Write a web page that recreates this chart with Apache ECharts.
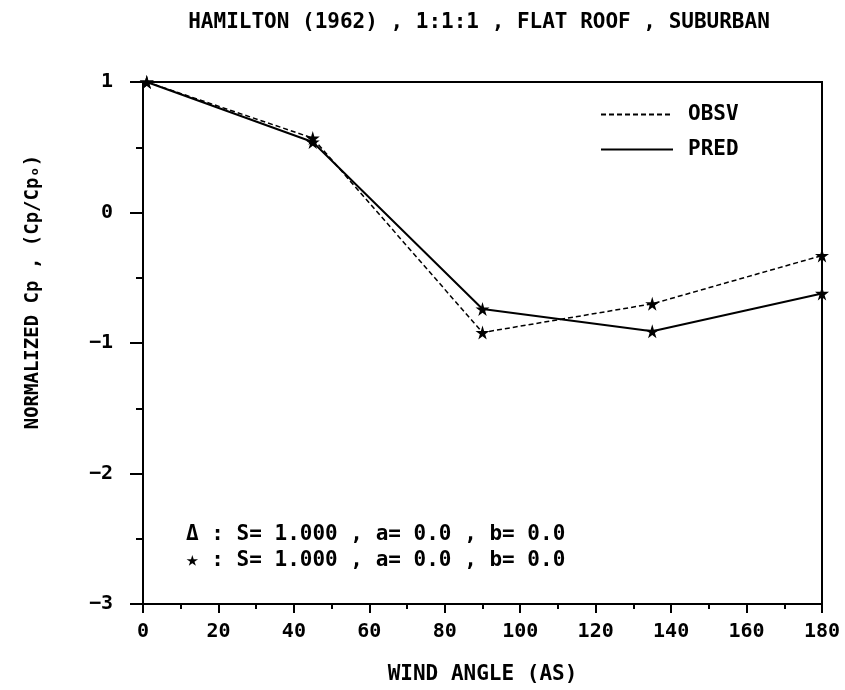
<!DOCTYPE html>
<html>
<head>
<meta charset="utf-8">
<script src="https://cdn.jsdelivr.net/npm/echarts@6/dist/echarts.min.js"></script>
<style>
html,body{margin:0;padding:0;background:#fff;}
#main{width:845px;height:690px;}
</style>
</head>
<body>
<div id="main"></div>
<script>
// wind angle (deg) and normalized Cp
var angles = [1, 45, 90, 135, 180];
var obsv = [1.0, 0.57, -0.92, -0.70, -0.33];
var pred = [1.0, 0.54, -0.74, -0.91, -0.62];
var xTicks = [0, 20, 40, 60, 80, 100, 120, 140, 160, 180];
var yTicks = [1, 0, -1, -2, -3];

var FONT = 'DejaVu Sans Mono';
var star = 'path://M50,0 L61,35 L98,35 L68,57 L79,91 L50,70 L21,91 L32,57 L2,35 L39,35 Z';

function pairs(ys) {
    var out = [];
    for (var i = 0; i < angles.length; i++) out.push([angles[i], ys[i]]);
    return out;
}

var myChart = echarts.init(document.getElementById('main'));
var options = {
    backgroundColor: '#fff',
    animation: false,
    title: {
        text: 'HAMILTON (1962) , 1:1:1 , FLAT ROOF , SUBURBAN',
        left: 474,
        textAlign: 'center',
        top: 7,
        textStyle: {fontFamily: FONT, fontWeight: 'bold', fontSize: 21, color: '#000'}
    },
    legend: {
        orient: 'vertical',
        left: 595,
        top: 99,
        itemWidth: 72,
        itemHeight: 14,
        itemGap: 14,
        itemStyle: {opacity: 0},
        textStyle: {fontFamily: FONT, fontWeight: 'bold', fontSize: 21, color: '#000', padding: [0, 0, 0, 10]},
        data: ['OBSV', 'PRED']
    },
    grid: {
        left: 143, right: 23, top: 82, bottom: 85,
        show: true, borderColor: '#000', borderWidth: 2, backgroundColor: 'transparent'
    },
    xAxis: {
        type: 'value',
        min: 0, max: 180, interval: 20,
        name: 'WIND ANGLE (AS)',
        nameLocation: 'middle',
        nameGap: 60,
        nameTextStyle: {fontFamily: FONT, fontWeight: 'bold', fontSize: 21, color: '#000'},
        axisLine: {onZero: false, lineStyle: {color: '#000', width: 2}},
        axisTick: {length: 9, lineStyle: {color: '#000', width: 2}},
        minorTick: {show: true, splitNumber: 2, length: 5, lineStyle: {color: '#000', width: 2}},
        axisLabel: {fontFamily: FONT, fontWeight: 'bold', fontSize: 20, color: '#000', margin: 18},
        splitLine: {show: false}
    },
    yAxis: {
        type: 'value',
        min: -3, max: 1, interval: 1,
        axisLine: {lineStyle: {color: '#000', width: 2}},
        axisTick: {length: 13, lineStyle: {color: '#000', width: 2}},
        minorTick: {show: true, splitNumber: 2, length: 7, lineStyle: {color: '#000', width: 2}},
        axisLabel: {
            fontFamily: FONT, fontWeight: 'bold', fontSize: 20, color: '#000', margin: 30,
            formatter: function (v) { return v < 0 ? '\u2212' + (-v) : String(v); }
        },
        splitLine: {show: false}
    },
    graphic: [{
        type: 'text', x: 33, y: 292, rotation: Math.PI / 2,
        style: {text: 'NORMALIZED Cp , (Cp/Cpₒ)', fontFamily: FONT, fontWeight: 'bold', fontSize: 19,
            fill: '#000', align: 'center', verticalAlign: 'middle'}
    }, {
        type: 'text', left: 186, top: 524,
        style: {text: 'Δ : S= 1.000 , a= 0.0 , b= 0.0', fontFamily: FONT, fontWeight: 'bold', fontSize: 21, fill: '#000'}
    }, {
        type: 'text', left: 186, top: 550,
        style: {text: '★ : S= 1.000 , a= 0.0 , b= 0.0', fontFamily: FONT, fontWeight: 'bold', fontSize: 21, fill: '#000'}
    }],
    series: [{
        name: 'OBSV',
        type: 'line',
        data: pairs(obsv),
        symbol: star,
        symbolSize: 14,
        itemStyle: {color: '#000'},
        lineStyle: {color: '#000', width: 1.5, type: [5, 3]}
    }, {
        name: 'PRED',
        type: 'line',
        data: pairs(pred),
        symbol: star,
        symbolSize: 14,
        itemStyle: {color: '#000'},
        lineStyle: {color: '#000', width: 2}
    }]
};
myChart.setOption(options);
</script>
</body>
</html>
